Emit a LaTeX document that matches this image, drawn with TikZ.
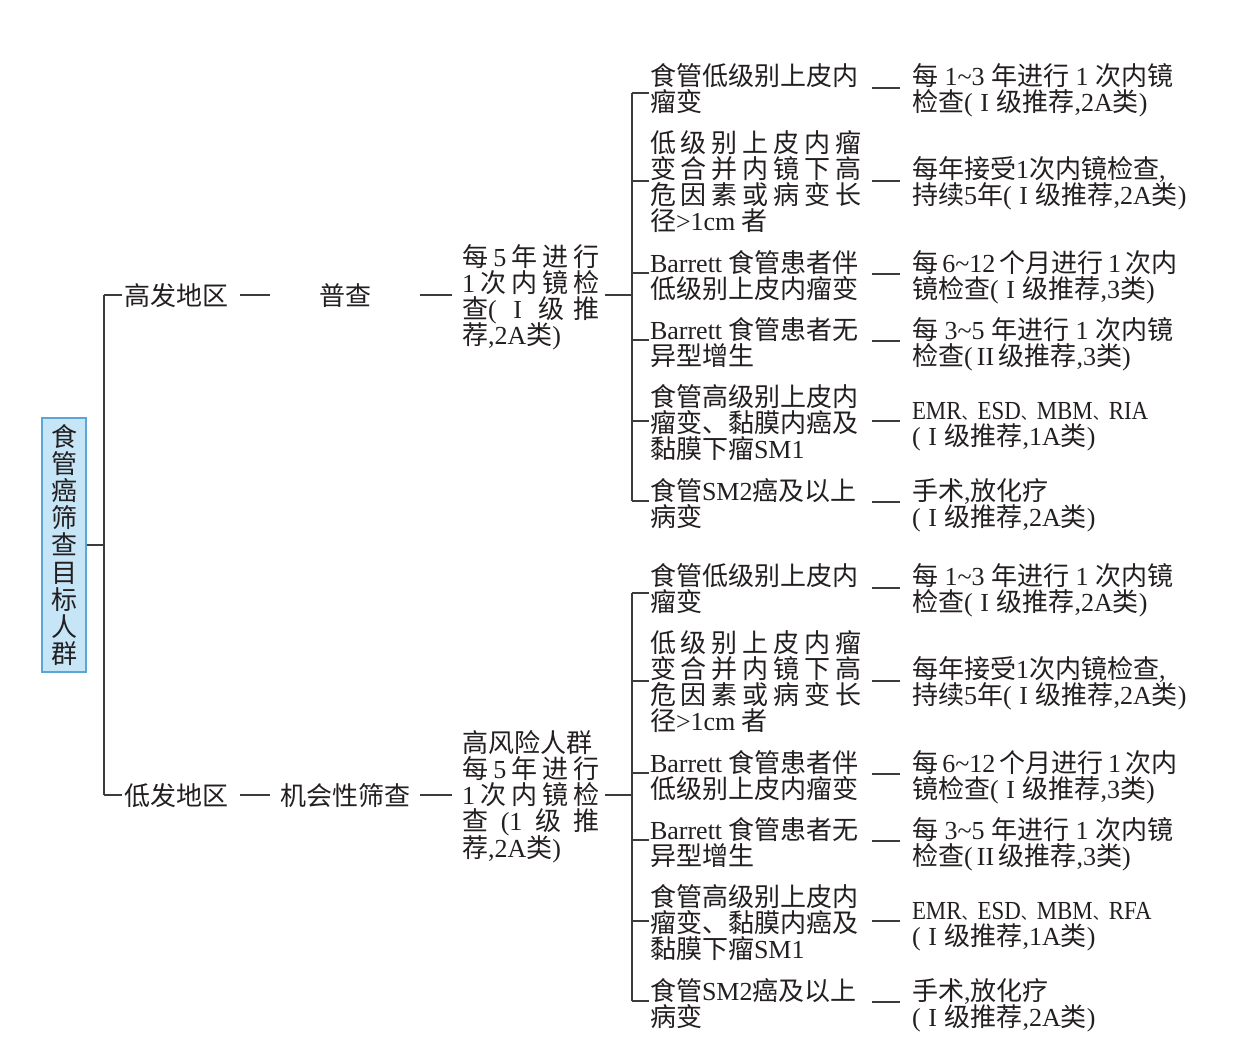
\documentclass[tikz,border=0pt]{standalone}
\usepackage{fontspec}
\usepackage{graphicx}
\setmainfont{Liberation Serif}
\newfontfamily\cjkf{Noto Sans CJK SC}
\newfontfamily\latf{Liberation Serif}
\XeTeXinterchartokenstate=1
\newXeTeXintercharclass\cjkcls
\newcount\rngc
\newcommand\cjkrange[2]{\rngc=#1\relax\loop\XeTeXcharclass\rngc=\cjkcls\relax\advance\rngc by 1\relax\ifnum\rngc<#2\relax\repeat}
\cjkrange{"3000}{"3040}
\cjkrange{"4E00}{"A000}
\cjkrange{"FF00}{"FFF0}
\XeTeXinterchartoks 0 \cjkcls = {\cjkf}
\XeTeXinterchartoks 4095 \cjkcls = {\cjkf}
\XeTeXinterchartoks \cjkcls 0 = {\latf}
\XeTeXinterchartoks \cjkcls 4095 = {\latf}
\definecolor{txtc}{HTML}{231F20}
\definecolor{linec}{HTML}{3C3C3C}
\definecolor{boxfill}{HTML}{C6E6F8}
\definecolor{boxline}{HTML}{5AA6D6}
\newcommand\blk[1]{\vtop{\baselineskip=26.3pt\lineskiplimit=-40pt\lineskip=0pt\relax#1}}
\newcommand\dn{\hbox{\fontsize{16}{16}\selectfont 、}}
\newcommand\cnd[1]{\scalebox{0.88}[1]{\latf #1}}
\newcommand\tld{\textasciitilde}
\newcommand\rI{\hbox to 24pt{\hss\latf I\hss}}
\newcommand\rII{\hbox to 26pt{\hss\latf II\hss}}
\tikzset{
 txt/.style={font=\fontsize{26}{26.3}\selectfont, inner sep=0pt, outer sep=0pt, anchor=base west, text=txtc},
 conn/.style={draw=linec, line width=1.1pt},
 rootbox/.style={draw=boxline, fill=boxfill, line width=1.4pt, minimum width=44pt, minimum height=254pt, inner sep=0pt, text=txtc, font=\fontsize{26}{27.2}\selectfont}
}
\newcommand\colgroup[3]{%
 \begin{scope}[shift={(0,#2)}]
  \node[txt] (#1a1) at (650,85) {\blk{\hbox{食管低级别上皮内}\hbox{瘤变}}};
  \node[txt] (#1a2) at (650,152) {\blk{\hbox to 211pt{低\hfil 级\hfil 别\hfil 上\hfil 皮\hfil 内\hfil 瘤}\hbox to 211pt{变\hfil 合\hfil 并\hfil 内\hfil 镜\hfil 下\hfil 高}\hbox to 211pt{危\hfil 因\hfil 素\hfil 或\hfil 病\hfil 变\hfil 长}\hbox{径>1cm 者}}};
  \node[txt] (#1a3) at (650,272) {\blk{\hbox{Barrett 食管患者伴}\hbox{低级别上皮内瘤变}}};
  \node[txt] (#1a4) at (650,339) {\blk{\hbox{Barrett 食管患者无}\hbox{异型增生}}};
  \node[txt] (#1a5) at (650,406) {\blk{\hbox{食管高级别上皮内}\hbox{瘤变、黏膜内癌及}\hbox{黏膜下瘤SM1}}};
  \node[txt] (#1a6) at (650,500) {\blk{\hbox{食管SM2癌及以上}\hbox{病变}}};
  \node[txt] (#1b1) at (912,85) {\blk{\hbox{每 1\tld3 年进行 1 次内镜}\hbox{检查(\rI 级推荐,2A类)}}};
  \node[txt] (#1b2) at (912,178) {\blk{\hbox{每年接受1次内镜检查,}\hbox{持续5年(\rI 级推荐,2A类)}}};
  \node[txt] (#1b3) at (912,272) {\blk{\hbox{每\,6\tld12\,个月进行\,1\,次内}\hbox{镜检查(\rI 级推荐,3类)}}};
  \node[txt] (#1b4) at (912,339) {\blk{\hbox{每 3\tld5 年进行 1 次内镜}\hbox{检查(\rII 级推荐,3类)}}};
  \node[txt] (#1b5) at (912,419) {\blk{\hbox{\cnd{EMR}\dn\cnd{ESD}\dn\cnd{MBM}\dn\cnd{#3}}\hbox{(\rI 级推荐,1A类)}}};
  \node[txt] (#1b6) at (912,500) {\blk{\hbox{手术,放化疗}\hbox{(\rI 级推荐,2A类)}}};
  \coordinate (#1vt) at (632,93);
  \coordinate (#1vb) at (632,501);
  \draw[conn] (#1vt) -- (#1vb);
  \foreach \yy in {93,181,273,340,421,501} \draw[conn] (632,\yy) -- (649,\yy);
  \foreach \yy in {88,181,274,341,421,502} \draw[conn] (872,\yy) -- (900,\yy);
 \end{scope}}
\begin{document}
\begin{tikzpicture}[x=1pt,y=-1pt]
\fill[white] (0,0) rectangle (1233,1045);
\useasboundingbox (0,0) rectangle (1233,1045);
% root
\node[rootbox] (root) at (64,545) {\vbox{\baselineskip=27.2pt\lineskiplimit=-40pt\lineskip=0pt\relax\hbox{食}\hbox{管}\hbox{癌}\hbox{筛}\hbox{查}\hbox{目}\hbox{标}\hbox{人}\hbox{群}}};
\coordinate (J0) at (104,545);
\coordinate (Jhi) at (104,295);
\coordinate (Jlo) at (104,795);
\draw[conn] (root.east) -- (J0);
\draw[conn] (Jhi) -- (Jlo);
\draw[conn] (Jhi) -- ++(18,0);
\draw[conn] (Jlo) -- ++(18,0);
% level 1
\node[txt] (hi) at (124,305) {高发地区};
\node[txt] (lo) at (124,805) {低发地区};
\node[txt, anchor=base] (pu) at (345,305) {普查};
\node[txt] (jh) at (280,805) {机会性筛查};
\node[txt] (mid1) at (462,266) {\blk{\hbox to 138pt{每\hfil 5\hfil 年\hfil 进\hfil 行}\hbox to 138pt{1\hfil 次\hfil 内\hfil 镜\hfil 检}\hbox to 138pt{查(\hfil \rI\hfil 级\hfil 推}\hbox{荐,2A类)}}};
\node[txt] (mid2) at (462,752) {\blk{\hbox{高风险人群}\hbox to 138pt{每\hfil 5\hfil 年\hfil 进\hfil 行}\hbox to 138pt{1\hfil 次\hfil 内\hfil 镜\hfil 检}\hbox to 138pt{查\hfil (1\hfil 级\hfil 推}\hbox{荐,2A类)}}};
\foreach \yy in {295,795} {
  \draw[conn] (240,\yy) -- (270,\yy);
  \draw[conn] (420,\yy) -- (452,\yy);
  \draw[conn] (605,\yy) -- (632,\yy);
}
\colgroup{t}{0}{RIA}
\colgroup{b}{500}{RFA}
\end{tikzpicture}
\end{document}
